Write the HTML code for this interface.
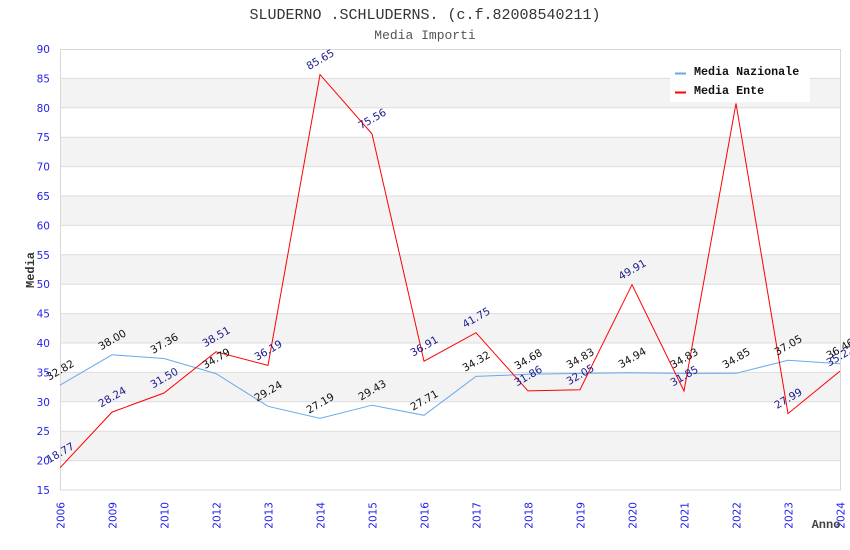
<!DOCTYPE html>
<html><head><meta charset="utf-8"><style>
html,body{margin:0;padding:0;background:#fff;}
svg{display:block;}
.t{font-family:"DejaVu Sans","Liberation Sans",sans-serif;font-size:10.5px;}
.m{font-family:"Liberation Mono",monospace;}
</style></head><body>
<svg width="850" height="550" viewBox="0 0 850 550" xmlns="http://www.w3.org/2000/svg">
<rect x="0" y="0" width="850" height="550" fill="#fff"/>
<text class="m" x="425" y="19" text-anchor="middle" font-size="15" fill="#333">SLUDERNO .SCHLUDERNS. (c.f.82008540211)</text>
<text class="m" x="425" y="39" text-anchor="middle" font-size="13" fill="#555">Media Importi</text>
<!-- bands -->
<g fill="#f3f3f3">
<rect x="60.5" y="78.4" width="780" height="29.4"/>
<rect x="60.5" y="137.2" width="780" height="29.4"/>
<rect x="60.5" y="196" width="780" height="29.4"/>
<rect x="60.5" y="254.8" width="780" height="29.4"/>
<rect x="60.5" y="313.6" width="780" height="29.4"/>
<rect x="60.5" y="372.4" width="780" height="29.4"/>
<rect x="60.5" y="431.2" width="780" height="29.4"/>
</g>
<g stroke="#dddddd" stroke-width="1">
<line x1="60" x2="841" y1="78.4" y2="78.4"/>
<line x1="60" x2="841" y1="107.8" y2="107.8"/>
<line x1="60" x2="841" y1="137.2" y2="137.2"/>
<line x1="60" x2="841" y1="166.6" y2="166.6"/>
<line x1="60" x2="841" y1="196" y2="196"/>
<line x1="60" x2="841" y1="225.4" y2="225.4"/>
<line x1="60" x2="841" y1="254.8" y2="254.8"/>
<line x1="60" x2="841" y1="284.2" y2="284.2"/>
<line x1="60" x2="841" y1="313.6" y2="313.6"/>
<line x1="60" x2="841" y1="343" y2="343"/>
<line x1="60" x2="841" y1="372.4" y2="372.4"/>
<line x1="60" x2="841" y1="401.8" y2="401.8"/>
<line x1="60" x2="841" y1="431.2" y2="431.2"/>
<line x1="60" x2="841" y1="460.6" y2="460.6"/>
</g>
<rect x="60.5" y="49.5" width="780" height="440.5" fill="none" stroke="#d8d8d8" stroke-width="1"/>
<!-- y ticks -->
<g class="t" fill="#2222ee" text-anchor="end">
<text x="50" y="53">90</text>
<text x="50" y="82.4">85</text>
<text x="50" y="111.8">80</text>
<text x="50" y="141.2">75</text>
<text x="50" y="170.6">70</text>
<text x="50" y="200">65</text>
<text x="50" y="229.4">60</text>
<text x="50" y="258.8">55</text>
<text x="50" y="288.2">50</text>
<text x="50" y="317.6">45</text>
<text x="50" y="347">40</text>
<text x="50" y="376.4">35</text>
<text x="50" y="405.8">30</text>
<text x="50" y="435.2">25</text>
<text x="50" y="464.6">20</text>
<text x="50" y="494">15</text>
</g>
<!-- x ticks -->
<g class="t" fill="#2222ee" text-anchor="end">
<text transform="translate(64.5,502) rotate(-90)">2006</text>
<text transform="translate(116.5,502) rotate(-90)">2009</text>
<text transform="translate(168.5,502) rotate(-90)">2010</text>
<text transform="translate(220.5,502) rotate(-90)">2012</text>
<text transform="translate(272.5,502) rotate(-90)">2013</text>
<text transform="translate(324.5,502) rotate(-90)">2014</text>
<text transform="translate(376.5,502) rotate(-90)">2015</text>
<text transform="translate(428.5,502) rotate(-90)">2016</text>
<text transform="translate(480.5,502) rotate(-90)">2017</text>
<text transform="translate(532.5,502) rotate(-90)">2018</text>
<text transform="translate(584.5,502) rotate(-90)">2019</text>
<text transform="translate(636.5,502) rotate(-90)">2020</text>
<text transform="translate(688.5,502) rotate(-90)">2021</text>
<text transform="translate(740.5,502) rotate(-90)">2022</text>
<text transform="translate(792.5,502) rotate(-90)">2023</text>
<text transform="translate(844.5,502) rotate(-90)">2024</text>
</g>
<text class="m" x="826" y="528" text-anchor="middle" font-size="12" font-weight="bold" fill="#444">Anno</text>
<text class="m" transform="translate(34,270) rotate(-90)" text-anchor="middle" font-size="12" font-weight="bold" fill="#333">Media</text>
<!-- series -->
<polyline fill="none" stroke="#66aaee" stroke-width="1" points="60,385.2 112,354.8 164,358.5 216,373.6 268,406.3 320,418.3 372,405.2 424,415.3 476,376.4 528,374.3 580,373.4 632,372.8 684,373.4 736,373.3 788,360.3 840,363.8"/>
<polyline fill="none" stroke="#ff0000" stroke-width="1" points="60,467.8 112,412.1 164,393 216,351.8 268,365.4 320,74.6 372,133.9 424,361.2 476,332.7 528,390.9 580,389.7 632,284.7 684,391 736,103.5 788,413.6 840,371.1"/>
<!-- labels Nazionale -->
<g class="t" fill="#111" text-anchor="middle">
<text transform="translate(62,373.2) rotate(-30)">32.82</text>
<text transform="translate(114,342.8) rotate(-30)">38.00</text>
<text transform="translate(166,346.5) rotate(-30)">37.36</text>
<text transform="translate(218,361.6) rotate(-30)">34.79</text>
<text transform="translate(270,394.3) rotate(-30)">29.24</text>
<text transform="translate(322,406.3) rotate(-30)">27.19</text>
<text transform="translate(374,393.2) rotate(-30)">29.43</text>
<text transform="translate(426,403.3) rotate(-30)">27.71</text>
<text transform="translate(478,364.4) rotate(-30)">34.32</text>
<text transform="translate(530,362.3) rotate(-30)">34.68</text>
<text transform="translate(582,361.4) rotate(-30)">34.83</text>
<text transform="translate(634,360.8) rotate(-30)">34.94</text>
<text transform="translate(686,361.4) rotate(-30)">34.83</text>
<text transform="translate(738,361.3) rotate(-30)">34.85</text>
<text transform="translate(790,348.3) rotate(-30)">37.05</text>
<text transform="translate(842,351.8) rotate(-30)">36.46</text>
</g>
<!-- labels Ente -->
<g class="t" fill="#1a1a8c" text-anchor="middle">
<text transform="translate(62,455.8) rotate(-30)">18.77</text>
<text transform="translate(114,400.1) rotate(-30)">28.24</text>
<text transform="translate(166,381) rotate(-30)">31.50</text>
<text transform="translate(218,339.8) rotate(-30)">38.51</text>
<text transform="translate(270,353.4) rotate(-30)">36.19</text>
<text transform="translate(322,62.6) rotate(-30)">85.65</text>
<text transform="translate(374,121.9) rotate(-30)">75.56</text>
<text transform="translate(426,349.2) rotate(-30)">36.91</text>
<text transform="translate(478,320.7) rotate(-30)">41.75</text>
<text transform="translate(530,378.9) rotate(-30)">31.86</text>
<text transform="translate(582,377.7) rotate(-30)">32.05</text>
<text transform="translate(634,272.7) rotate(-30)">49.91</text>
<text transform="translate(686,379) rotate(-30)">31.85</text>
<text transform="translate(738,91.5) rotate(-30)">80.73</text>
<text transform="translate(790,401.6) rotate(-30)">27.99</text>
<text transform="translate(842,359.1) rotate(-30)">35.22</text>
</g>
<!-- legend -->
<rect x="670" y="58" width="140" height="44" fill="#fff"/>
<rect x="675" y="72.5" width="11" height="2" fill="#66aaee"/>
<rect x="675" y="91.5" width="11" height="2" fill="#ff0000"/>
<text class="m" x="694" y="75" font-size="11.7" font-weight="bold" fill="#111">Media Nazionale</text>
<text class="m" x="694" y="94" font-size="11.7" font-weight="bold" fill="#111">Media Ente</text>
</svg>
</body></html>
